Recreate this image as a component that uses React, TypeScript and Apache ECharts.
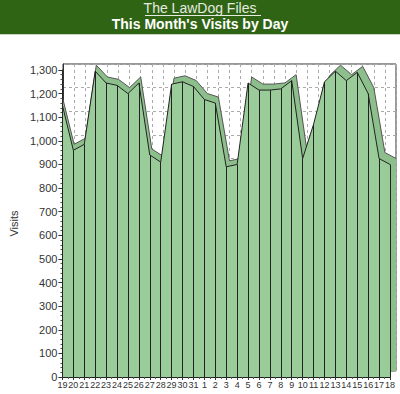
import React, { useEffect, useRef } from "react";
import * as echarts from "echarts";

const days = ["19","20","21","22","23","24","25","26","27","28","29","30","31","1","2","3","4","5","6","7","8","9","10","11","12","13","14","15","16","17","18"];
const visits = [1150, 960, 985, 1295, 1245, 1235, 1200, 1245, 940, 910, 1240, 1250, 1230, 1175, 1160, 890, 900, 1245, 1215, 1215, 1220, 1255, 925, 1070, 1250, 1295, 1255, 1290, 1200, 925, 900];
const titleLink = "The LawDog Files";
const titleMain = "This Month's Visits by Day";
const yName = "Visits";

export default function App() {
  const ref = useRef<HTMLDivElement>(null);
  useEffect(() => {
    document.body.style.margin = "0";
    const chart = echarts.init(ref.current!, null, { renderer: "svg" });
    const pts = visits.map((v, i) => [i, v]);
    const font = "'Liberation Sans', Arial, sans-serif";
    chart.setOption({
      animation: false,
      backgroundColor: "#ffffff",
      graphic: [
        { type: "rect", left: 0, top: 0, shape: { width: 400, height: 34 }, style: { fill: "#2f6414" }, z: 10 },
        { type: "rect", left: 0, top: 34, shape: { width: 400, height: 1 }, style: { fill: "#c8d6c0" }, z: 10 },
        { type: "text", left: "center", top: 1, style: { text: titleLink, fill: "#e4ebe0", font: "14px " + font }, z: 11 },
        { type: "rect", left: 145, top: 15, shape: { width: 116, height: 1 }, style: { fill: "#e4ebe0" }, z: 11 },
        { type: "text", left: "center", top: 17, style: { text: titleMain, fill: "#ffffff", font: "bold 14px " + font }, z: 11 },
      ],
      grid: [
        { left: 57, top: 70, width: 333, height: 307, show: false },
        { left: 63, top: 64, width: 333, height: 307, show: true, backgroundColor: "#ffffff", borderColor: "#333", borderWidth: 1 },
      ],
      xAxis: [
        {
          type: "value", gridIndex: 0, min: 0, max: days.length - 1, interval: 1,
          axisLine: { show: true, lineStyle: { color: "#222" } },
          axisTick: { show: true, length: 3, lineStyle: { color: "#333" } },
          minorTick: { show: true, splitNumber: 2, length: 2, lineStyle: { color: "#555" } },
          axisLabel: { margin: 3, fontSize: 9, fontFamily: font, color: "#333", formatter: (v: number) => days[v] ?? "", showMinLabel: true, showMaxLabel: true },
          splitLine: { show: false },
        },
        {
          type: "value", gridIndex: 1, min: 0, max: days.length - 1, interval: 1,
          axisLine: { show: false }, axisTick: { show: false }, axisLabel: { show: false },
          splitLine: { show: true, lineStyle: { color: "#aaa", type: [3, 3] } },
        },
      ],
      yAxis: [
        {
          type: "value", gridIndex: 0, min: 0, max: 1300, interval: 100,
          name: yName, nameLocation: "middle", nameGap: 31, nameRotate: 90,
          nameTextStyle: { fontSize: 11, fontFamily: font, color: "#333" },
          axisLine: { show: true, lineStyle: { color: "#222" } },
          axisTick: { show: true, length: 4, lineStyle: { color: "#333" } },
          minorTick: { show: true, splitNumber: 5, length: 2, lineStyle: { color: "#555" } },
          axisLabel: { fontSize: 11, fontFamily: font, color: "#333", margin: 5, formatter: (v: number) => v.toLocaleString("en-US") },
          splitLine: { show: false },
        },
        {
          type: "value", gridIndex: 1, min: 0, max: 1300, interval: 100,
          axisLine: { show: true, lineStyle: { color: "#333" } }, axisTick: { show: false }, axisLabel: { show: false },
          splitLine: { show: true, lineStyle: { color: "#aaa", type: [3, 3] } },
        },
      ],
      series: [
        {
          type: "line", xAxisIndex: 1, yAxisIndex: 1, data: pts, symbol: "none", z: 1,
          lineStyle: { color: "#555", width: 1 },
          areaStyle: { color: "#8dbf8d", opacity: 1 },
          silent: true,
        },
        {
          type: "line", xAxisIndex: 0, yAxisIndex: 0, data: pts, symbol: "none", z: 3,
          lineStyle: { color: "#222", width: 1 },
          areaStyle: { color: "#99cc99", opacity: 1 },
          silent: true,
          markLine: {
            silent: true, symbol: "none", label: { show: false },
            lineStyle: { color: "#222", width: 1, type: "solid" },
            data: visits.map((v, i) => [{ coord: [i, 0] }, { coord: [i, v] }]),
          },
        },
      ],
    });
    return () => chart.dispose();
  }, []);
  return <div ref={ref} style={{ position: "absolute", left: 0, top: 0, width: 400, height: 394 }} />;
}
